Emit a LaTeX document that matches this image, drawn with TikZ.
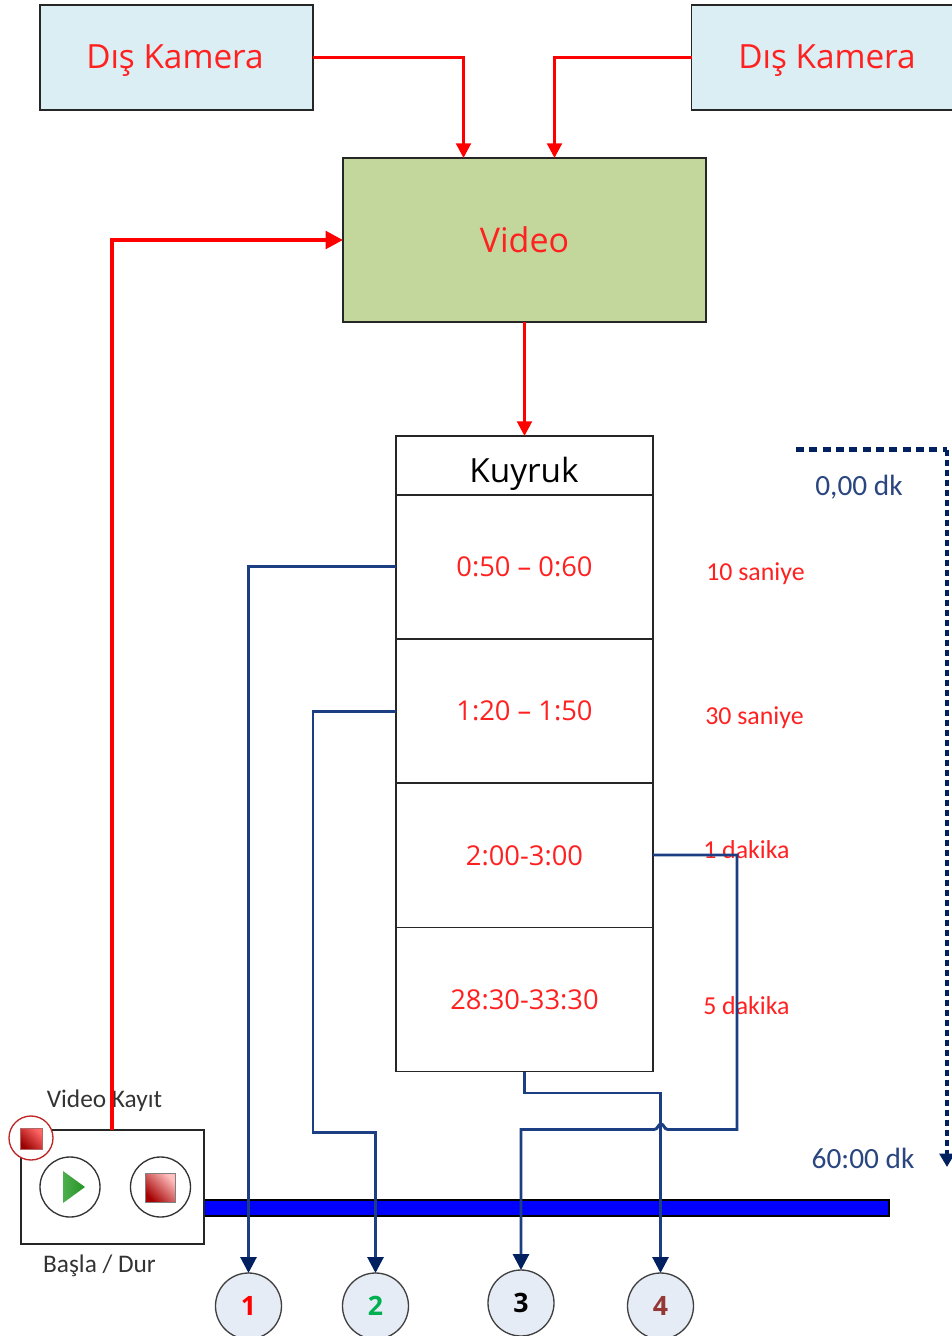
\documentclass[tikz,border=0pt]{standalone}
\usepackage{fontspec}
\setmainfont{Open Sans}
\newfontfamily\calfont{Carlito}
\usetikzlibrary{arrows.meta}
\def\pxu{0.75pt}
\definecolor{redl}{HTML}{FF0000}
\definecolor{redt}{HTML}{FF2020}
\definecolor{navyl}{HTML}{1B3F82}
\definecolor{navyt}{HTML}{002060}
\definecolor{labt}{HTML}{2A4680}
\definecolor{camfill}{HTML}{DBEEF4}
\definecolor{videofill}{HTML}{C3D69B}
\definecolor{numfill}{HTML}{E6ECF6}
\definecolor{greent}{HTML}{00B050}
\definecolor{brownt}{HTML}{953735}
\tikzset{
  boxn/.style={draw=black!85,line width=0.8pt,inner sep=0pt,outer sep=0pt,align=center},
  cam/.style={boxn,fill=camfill,minimum width=273*\pxu,minimum height=105*\pxu},
  camtext/.style={text=redt,inner sep=0pt,font=\fontsize{25}{27}\selectfont},
  cell/.style={boxn,minimum width=257*\pxu,minimum height=144*\pxu,text=redt,font=\fontsize{20.5}{24}\selectfont},
  redarrow/.style={draw=redl,line width=2.2pt,-{Triangle[length=11pt,width=11pt]}},
  navarrow/.style={draw=navyl,line width=2.2pt,-{Triangle[length=12pt,width=12pt,color=navyt]}},
  sidelab/.style={text=redt,font=\calfont\fontsize{19.4}{21}\selectfont,anchor=west,inner sep=0pt},
  timelab/.style={text=labt,font=\calfont\fontsize{22}{24}\selectfont,inner sep=0pt},
  caplab/.style={text=black!80,font=\calfont\fontsize{19}{21}\selectfont,inner sep=0pt},
  numn/.style={circle,draw=black!75,line width=1pt,fill=numfill,minimum size=66*\pxu,inner sep=0pt,outer sep=0pt,font=\bfseries\fontsize{20}{22}\selectfont},
  btn/.style={circle,draw=black!80,line width=1pt,fill=white,minimum size=60*\pxu,inner sep=0pt,outer sep=0pt},
}
\begin{document}
\begin{tikzpicture}[x=0.75pt,y=-0.75pt]
\useasboundingbox (0,0) rectangle (952,1336);
\clip (0,0) rectangle (952,1336);
% top boxes
\node[cam] (cam1) at (176.5,57.5) {};
\node[cam] (cam2) at (828,57.5) {};
\node[camtext] (cam1t) at (175,61) {Dış Kamera};
\node[camtext] (cam2t) at (827,61) {Dış Kamera};
\node[boxn,fill=videofill,text=redt,minimum width=363*\pxu,minimum height=164*\pxu,font=\fontsize{25.5}{27}\selectfont] (video) at (524.5,240) {Video};
% queue
\node[boxn,minimum width=257*\pxu,minimum height=59*\pxu,text=black] (kuyruk) at (524.5,465.5) {};
\node[inner sep=0pt,text=black,font=\fontsize{25}{27}\selectfont] (kuyruktext) at (524,474) {Kuyruk};
\node[cell] (c1) at (524.5,567) {0:50 – 0:60};
\node[cell] (c2) at (524.5,711) {1:20 – 1:50};
\node[cell] (c3) at (524.5,855.5) {2:00-3:00};
\node[cell] (c4) at (524.5,999.5) {28:30-33:30};
% side labels
\node[sidelab] (s1) at (706,574) {10 saniye};
\node[sidelab] (s2) at (705,718) {30 saniye};
\node[sidelab] (s3) at (703,850) {1 dakika};
\node[sidelab] (s4) at (703,1006) {5 dakika};
\node[timelab] (t0) at (859,487) {0,00 dk};
\node[timelab] (t1) at (863,1158) {60:00 dk};
% time bar
\node[draw=black,line width=0.8pt,fill=blue,minimum width=685*\pxu,minimum height=16*\pxu,inner sep=0pt,outer sep=0pt] (bar) at (546.5,1208) {};
% control box
\node[boxn,fill=white,minimum width=183*\pxu,minimum height=114*\pxu] (ctrl) at (112.5,1187) {};
\node[btn] (play) at (70,1187) {};
\node[btn] (stop) at (160.5,1187) {};
\shade[left color=green!55!black!70,right color=green!50!black!85] (63,1171) -- (85,1187) -- (63,1203) -- cycle;
\draw[black!50,line width=0.6pt,shading=axis,top color=red!25,bottom color=red!65!black,shading angle=-45] (145,1173) rectangle (175,1202);
\node[circle,draw=red!70!black!85,line width=1pt,fill=white,minimum size=44*\pxu,inner sep=0pt,outer sep=0pt] (rec) at (31,1138) {};
\draw[red!50!black!60,line width=0.4pt,shading=axis,top color=red!60,bottom color=red!60!black,shading angle=-45] (20,1128) rectangle (42,1149);
\node[caplab] (cap1) at (104.5,1101) {Video Kayıt};
\node[caplab] (cap2) at (99.5,1266) {Başla / Dur};
% number nodes
\node[numn,text=red] (n1) at (248.5,1306) {1};
\node[numn,text=greent] (n2t) at (375.5,1306) {2};
\node[numn,text=black] (n3) at (521,1303) {3};
\node[numn,text=brownt] (n4) at (660.5,1306) {4};
% red connectors
\coordinate (v1) at (463.5,158);
\coordinate (v2) at (554.5,158);
\coordinate (ctop) at (112,1130);
\draw[redarrow] (cam1.east) -| (v1);
\draw[redarrow] (cam2.west) -| (v2);
\draw[redarrow] (video.south) -- (kuyruk.north);
\draw[redl,line width=3pt,-{Triangle[length=13pt,width=13pt]}] (ctop) |- (video.west);
% navy connectors
\coordinate (q1) at (396,566.5);
\coordinate (q2) at (396,711.5);
\coordinate (q3) at (653,855);
\coordinate (m2a) at (313,1132.5);
\coordinate (m3a) at (737,1129.5);
\coordinate (m3b) at (668,1129.5);
\coordinate (m3c) at (654,1129.5);
\coordinate (m3d) at (521,1129.5);
\coordinate (m4a) at (524.5,1093);
\draw[navarrow] (q1) -| (n1.north);
\draw[navarrow] (q2) -| (m2a) -| (n2t.north);
\draw[navarrow] (q3) -| (m3a) -- (m3b) .. controls (664,1129.5) and (664,1124) .. (661,1124) .. controls (658,1124) and (658,1129.5) .. (m3c) -- (m3d) -- (n3.north -| m3d);
\draw[navarrow] (c4.south) -- (m4a) -| (n4.north);
% timeline
\coordinate (d0) at (796,449.5);
\coordinate (d1) at (947,449.5);
\coordinate (d2) at (947,1167);
\draw[draw=navyt,line width=3.4pt,dash pattern=on 6pt off 4pt] (d0) -- (d1);
\draw[draw=navyt,line width=3.4pt,dash pattern=on 4.5pt off 3pt,-{Triangle[length=10pt,width=11pt]}] (d1) -- (d2);
\end{tikzpicture}
\end{document}
